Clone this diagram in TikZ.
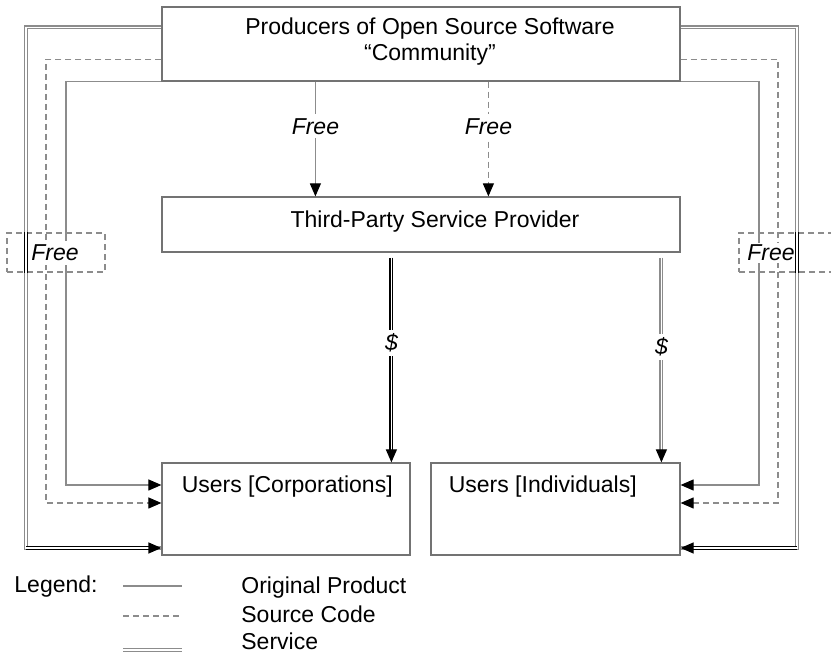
\documentclass[tikz,border=0pt]{standalone}
\usepackage{fontspec}
\setmainfont{Liberation Sans}
\usetikzlibrary{arrows.meta,calc}

\colorlet{linegray}{black!45}
\colorlet{boxgray}{black!55}

\tikzset{
    box/.style={draw=boxgray, line width=0.6pt, fill=white},
    txt/.style={inner sep=1pt, font=\fontsize{11.5}{13}\selectfont},
    lbl/.style={fill=white, inner sep=2pt, font=\fontsize{11.5}{13}\selectfont\itshape},
    prod/.style={draw=linegray, line width=0.55pt},
    src/.style={prod, dash pattern=on 3pt off 2pt},
    svc/.style={draw=linegray, line width=0.6pt, double=white, double distance=0.8pt},
    tip/.style={-{Triangle[length=6.5pt,width=5.5pt,color=black]}},
    freebox/.style={draw=linegray, line width=0.55pt, dash pattern=on 3pt off 2pt,
                    minimum width=49pt, minimum height=19.5pt},
}

\begin{document}
\begin{tikzpicture}[x=0.5pt,y=-0.5pt]
    \useasboundingbox (0,0) rectangle (831,656);

    % boxes
    \node[box, minimum width=259pt, minimum height=37pt]   (producers) at (421,44) {};
    \node[box, minimum width=259pt, minimum height=27.5pt] (provider)  at (421,224.5) {};
    \node[box, minimum width=124pt, minimum height=46pt]   (corp)      at (286,509) {};
    \node[box, minimum width=124.5pt, minimum height=46pt] (indiv)     at (555.5,509) {};
    \node[txt, align=center] (producerstxt) at ($(producers)+(9,-2)$)
        {Producers of Open Source Software\\“Community”};
    \node[txt] (providertxt) at ($(provider)+(14,-3)$) {Third-Party Service Provider};
    \node[txt, anchor=west] (corptxt)  at ($(corp.north west)+(18,24)$)  {Users [Corporations]};
    \node[txt, anchor=west] (indivtxt) at ($(indiv.north west)+(16,24)$) {Users [Individuals]};

    % corners of the outer loops
    \coordinate (svcL)  at (26,548);
    \coordinate (srcL)  at (46,503);
    \coordinate (prodL) at (66,485);
    \coordinate (svcR)  at (797,548);
    \coordinate (srcR)  at (778,503);
    \coordinate (prodR) at (759,485);

    \draw[svc] ([yshift=-10.5pt]producers.north west) -| (svcL) -- (svcL -| corp.west);
    \draw[svc, draw=black, tip] (svcL) -- (svcL -| corp.west);
    \draw[src, tip] ([yshift=-26.5pt]producers.north west) -| (srcL) -- (srcL -| corp.west);
    \draw[prod, tip] (producers.south west) -| (prodL) -- (prodL -| corp.west);

    \draw[svc] ([yshift=-10.5pt]producers.north east) -| (svcR) -- (svcR -| indiv.east);
    \draw[svc, draw=black, tip] (svcR) -- (svcR -| indiv.east);
    \draw[src, tip] ([yshift=-26.5pt]producers.north east) -| (srcR) -- (srcR -| indiv.east);
    \draw[prod, tip] (producers.south east) -| (prodR) -- (prodR -| indiv.east);

    % free to the provider
    \draw[prod, tip] ([xshift=77pt]producers.south west) -- ([xshift=77pt]provider.north west)
                                            node[lbl, pos=0.39] (freeA) {Free};
    \draw[src, tip] ([xshift=163.5pt]producers.south west) -- ([xshift=163.5pt]provider.north west)
                                            node[lbl, pos=0.39] (freeB) {Free};

    % paid service
    \draw[svc, draw=black, tip, shorten <=2.5pt] ([xshift=115pt]provider.south west) -- ([xshift=115pt]corp.north west)
                                            node[lbl, pos=0.43] (payA) {\$};
    \draw[svc, tip, shorten <=2.5pt] ([xshift=250pt]provider.south west) -- ([xshift=115.5pt]indiv.north west)
                                            node[lbl, pos=0.45] (payB) {\$};

    % free to the users
    \node[lbl] (freeLtxt) at (55,253) {Free};
    \node[freebox] (freeL) at (56,252.5) {};
    \draw[svc, draw=black] (freeL.north -| svcL) -- (freeL.south -| svcL);
    \node[lbl, inner sep=1pt] (freeRtxt) at (771,253) {Free};
    \node[freebox] (freeR) at (788,252.5) {};
    \draw[svc, draw=black] (freeR.north -| svcR) -- (freeR.south -| svcR);

    % legend
    \node[txt] (legend) at (56,587) {Legend:};
    \node[txt, anchor=west] (origtxt) at (239,588) {Original Product};
    \node[txt, anchor=west] (srctxt)  at (239,614) {Source Code};
    \node[txt, anchor=west] (svctxt)  at (239,641) {Service};
    \draw[prod] ([xshift=-58pt,yshift=1pt]origtxt.west)  -- ([xshift=-28.5pt,yshift=1pt]origtxt.west);
    \draw[src]  ([xshift=-58pt,yshift=-1pt]srctxt.west)  -- ([xshift=-28.5pt,yshift=-1pt]srctxt.west);
    \draw[svc]  ([xshift=-58pt,yshift=-4.5pt]svctxt.west) -- ([xshift=-28.5pt,yshift=-4.5pt]svctxt.west);

\end{tikzpicture}
\end{document}
